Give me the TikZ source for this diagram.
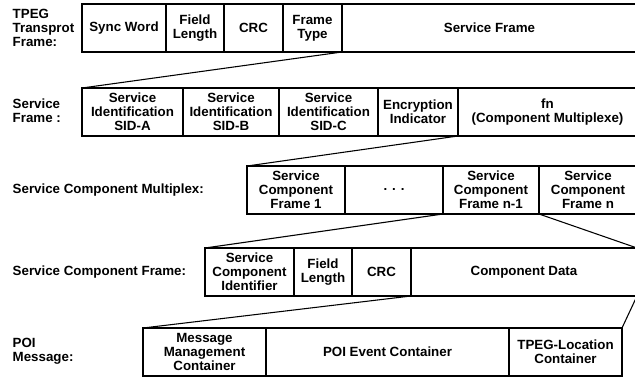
\documentclass[tikz,border=0pt]{standalone}
\usepackage{fontspec}
\setmainfont{Liberation Sans}
\usetikzlibrary{positioning}

\newcommand{\fldfont}{\fontsize{10}{10.5}\selectfont\bfseries}

\begin{document}
\begin{tikzpicture}[x=0.75pt, y=-0.75pt,
    fld/.style={draw, line width=1.1pt, outer sep=0pt, inner sep=1pt,
      minimum height=36pt, align=center, anchor=north west, font=\fldfont},
    lbl/.style={anchor=west, align=left, font=\fldfont},
    zm/.style={line width=0.8pt}
  ]
    \useasboundingbox (0,0) rectangle (635,378);
    \clip (0,0) rectangle (635,378);

    % TPEG transport frame
    \node[lbl] (l1) at (8,28) {TPEG\\Transprot\\Frame:};
    \node[fld, minimum width=63pt] (sync) at (82,4) {Sync Word};
    \node[fld, minimum width=43.5pt, right=0pt of sync] (flen) {Field\\Length};
    \node[fld, minimum width=44.25pt, right=0pt of flen] (crc) {CRC};
    \node[fld, minimum width=44.25pt, right=0pt of crc] (ftype) {Frame\\Type};
    \node[fld, minimum width=221.25pt, right=0pt of ftype] (sf) {Service Frame};

    % service frame
    \node[lbl] (l2) at (8,111) {Service\\Frame :};
    \node[fld, minimum width=75.75pt] (sida) at (82,88)
      {Service\\Identification\\SID-A};
    \node[fld, minimum width=72pt, right=0pt of sida] (sidb)
      {Service\\Identification\\SID-B};
    \node[fld, minimum width=74.25pt, right=0pt of sidb] (sidc)
      {Service\\Identification\\SID-C};
    \node[fld, minimum width=60pt, right=0pt of sidc] (enc)
      {Encryption\\Indicator};
    \node[fld, minimum width=134.25pt, right=0pt of enc] (fn)
      {fn\\(Component Multiplexe)};

    % service component multiplex
    \node[lbl] (l3) at (8,190) {Service Component Multiplex:};
    \node[fld, minimum width=73.5pt] (scf1) at (247,166)
      {Service\\Component\\Frame 1};
    \node[fld, minimum width=73.5pt, right=0pt of scf1] (dots) {. . .};
    \node[fld, minimum width=72pt, right=0pt of dots] (scfm)
      {Service\\Component\\Frame n-1};
    \node[fld, minimum width=73.5pt, right=0pt of scfm] (scfn)
      {Service\\Component\\Frame n};

    % service component frame
    \node[lbl] (l4) at (8,272) {Service Component Frame:};
    \node[fld, minimum width=66.75pt] (sci) at (205,248)
      {Service\\Component\\Identifier};
    \node[fld, minimum width=43.5pt, right=0pt of sci] (flen2) {Field\\Length};
    \node[fld, minimum width=44.25pt, right=0pt of flen2] (crc2) {CRC};
    \node[fld, minimum width=169.5pt, right=0pt of crc2] (cd) {Component Data};

    % POI message
    \node[lbl] (l5) at (8,351) {POI\\Message:};
    \node[fld, minimum width=92.25pt] (mmc) at (143,328)
      {Message\\Management\\Container};
    \node[fld, minimum width=182.25pt, right=0pt of mmc] (poi)
      {POI Event Container};
    \node[fld, minimum width=84.75pt, right=0pt of poi] (tloc)
      {TPEG-Location\\Container};

    \foreach \a/\b in {sf.south west/sida.north west,
        fn.south west/scf1.north west, scfm.south west/sci.north west,
        scfm.south east/cd.north east, cd.south west/mmc.north west,
        cd.south east/tloc.north east} {
      \draw[zm] (\a) -- (\b);
    }
\end{tikzpicture}
\end{document}
